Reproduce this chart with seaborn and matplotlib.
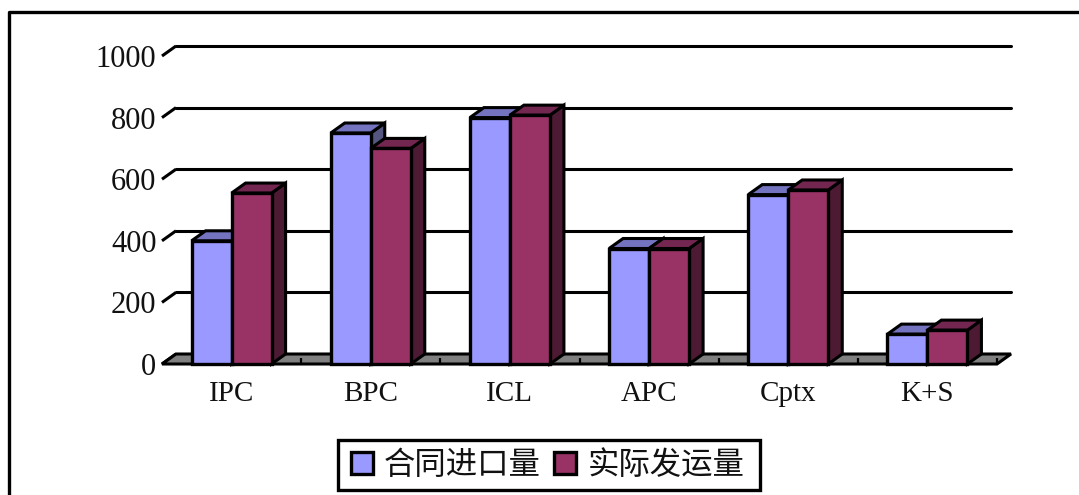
import matplotlib.pyplot as plt
from matplotlib.patches import Polygon, Rectangle
from matplotlib.lines import Line2D
import seaborn as sns
import pandas as pd

sns.set_theme(style="white")

categories = ["IPC", "BPC", "ICL", "APC", "Cptx", "K+S"]
contract = [400, 750, 800, 375, 550, 97]
shipped = [555, 700, 808, 375, 565, 110]
series_names = ["合同进口量", "实际发运量"]
y_ticks = [0, 200, 400, 600, 800, 1000]

W, H = 1079, 495
fig = plt.figure(figsize=(W / 100, H / 100), dpi=100)
ax = fig.add_axes([162 / W, (H - 364) / H, 835 / W, 308 / H])

df = pd.DataFrame({
    "cat": categories * 2,
    "val": contract + shipped,
    "series": [series_names[0]] * 6 + [series_names[1]] * 6,
})

sns.barplot(
    data=df, x="cat", y="val", hue="series",
    palette=["#9999FF", "#993366"], width=0.575, gap=0,
    edgecolor="black", linewidth=2.4, saturation=1, ax=ax,
)

ax.set_xlim(-0.5, 5.5)
ax.set_ylim(0, 1000)
ax.set_xlabel("")
ax.set_ylabel("")
sns.despine(ax=ax, left=True, bottom=True, top=True, right=True)

# bars made by seaborn, grab them before adding the other faces
bars = [p for p in ax.patches if isinstance(p, Rectangle) and p.get_height() > 0]
bars = sorted(bars, key=lambda p: p.get_x())

# depth of the fake 3d box, in data units
dx = 14 / (835 / 6)
dy = 10 / 0.308

# back wall grid and the slanted ticks
for v in y_ticks:
    if v > 0:
        ax.plot([-0.5 + dx, 5.5 + dx], [v + dy, v + dy], color="black", lw=2.2,
                clip_on=False, zorder=1)
    ax.plot([-0.5, -0.5 + dx], [v, v + dy], color="black", lw=2.2,
            clip_on=False, zorder=1, solid_capstyle="butt")

# floor
ax.add_patch(Polygon([(-0.5, 0), (5.5, 0), (5.5 + dx, dy), (-0.5 + dx, dy)],
                     facecolor="#808080", edgecolor="black", lw=2.2,
                     clip_on=False, zorder=2))
ax.vlines([i - 0.5 for i in range(1, 7)], 0, dy * 0.6, color="black", lw=1.6,
          clip_on=False, zorder=2.5)

# side and top faces, drawn bar by bar left to right
side_cols = {"#9999FF": "#545680", "#993366": "#4D1A33"}
top_cols = {"#9999FF": "#7373BF", "#993366": "#732650"}
for i, b in enumerate(bars):
    x0, x1, h = b.get_x(), b.get_x() + b.get_width(), b.get_height()
    is_blue = b.get_facecolor()[2] > 0.8
    key = "#9999FF" if is_blue else "#993366"
    z = 3 + i
    ax.add_patch(Polygon([(x1, 0), (x1 + dx, dy), (x1 + dx, h + dy), (x1, h)],
                         facecolor=side_cols[key], edgecolor="black", lw=2.2,
                         clip_on=False, zorder=z))
    ax.add_patch(Polygon([(x0, h), (x1, h), (x1 + dx, h + dy), (x0 + dx, h + dy)],
                         facecolor=top_cols[key], edgecolor="black", lw=2.2,
                         clip_on=False, zorder=z + 0.1))
    b.set_zorder(z + 0.2)
    b.set_clip_on(False)

ax.set_yticks(y_ticks)
ax.set_xticks(range(6))
ax.set_xticklabels(categories)
ax.tick_params(axis="both", length=0, colors="black")
ax.tick_params(axis="y", pad=4, labelsize=22)
ax.tick_params(axis="x", pad=12, labelsize=21)
for t in ax.get_xticklabels() + ax.get_yticklabels():
    t.set_family("Liberation Serif")
    t.set_color("#111111")

handles, labels = ax.get_legend_handles_labels()
leg = ax.legend(
    handles, labels, ncol=2, loc="center",
    bbox_to_anchor=(547.5 / W, (H - 465) / H), bbox_transform=fig.transFigure,
    prop={"family": ["Noto Sans CJK SC", "DejaVu Sans"], "size": 22.6},
    frameon=False,
    handlelength=0.7, handleheight=0.7, handletextpad=0.36,
    columnspacing=0.43, borderpad=0, borderaxespad=0,
    labelcolor="#111111",
)
leg.set_zorder(20)

# legend box drawn by hand so it can be wider than the legend padding allows
fig.add_artist(Rectangle((338 / W, (H - 490) / H), 422 / W, 50 / H, fill=False,
                         edgecolor="black", lw=2.4, transform=fig.transFigure))

# outer chart frame, only top and left are in the crop
fig.add_artist(Line2D([8.5 / W, 8.5 / W, 1], [0, (H - 11.5) / H, (H - 11.5) / H],
                      color="black", lw=2.4, transform=fig.transFigure))

fig.savefig("out.png", dpi=100)
